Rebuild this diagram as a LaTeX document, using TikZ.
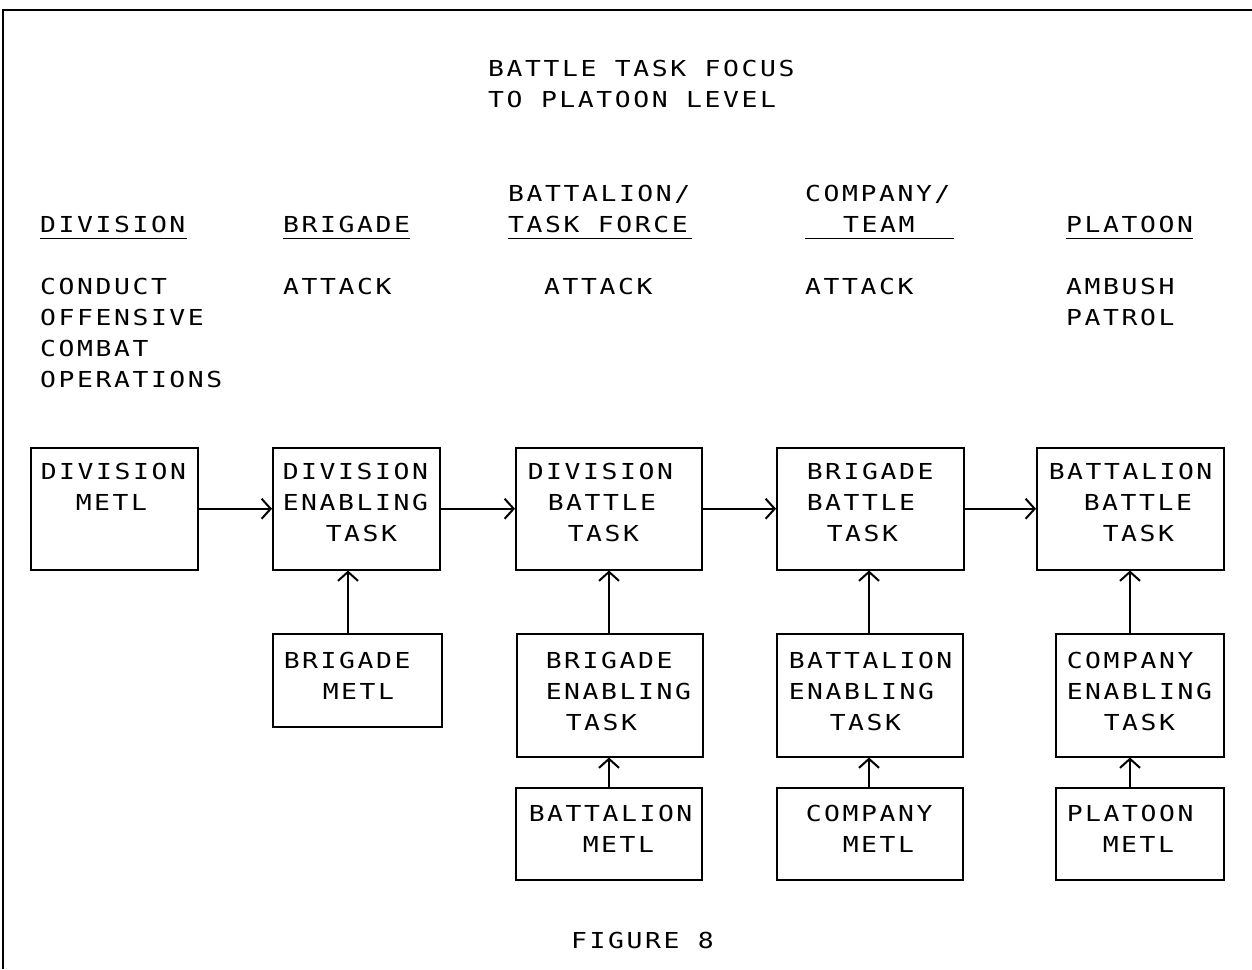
\documentclass[tikz,border=0pt]{standalone}
\usepackage{fontspec}
\newfontfamily\plotfont{DejaVu Sans Mono}[FakeStretch=1.2,LetterSpace=11.7]
\usetikzlibrary{arrows.meta}
\newcommand\boxtext[4]{\parbox[c][#2pt][t]{#1pt}{\rule{0pt}{#3pt}#4}}
\newcommand\lns[1]{\begin{tabular}[t]{@{}l@{}}#1\end{tabular}}
\tikzset{
  every node/.style={font=\plotfont\fontsize{22}{31}\selectfont},
  box/.style={draw, line width=1.5pt, inner sep=0pt, anchor=north west},
  txt/.style={anchor=base west, inner sep=0pt},
  arr/.style={line width=1.5pt, -{Straight Barb[length=9pt,width=20pt,line width=2pt]}},
  uline/.style={line width=1.5pt},
  frame/.style={line width=1.6pt}
}
\begin{document}
\begin{tikzpicture}[x=1pt,y=-1pt]
\useasboundingbox (0,0) rectangle (1252,969);
\draw[frame] (3,969) -- (3,10) -- (1252,10);

% title
\node[txt] (title) at (488,76) {\lns{BATTLE TASK FOCUS\\TO PLATOON LEVEL}};

% column headings
\node[txt] (hdiv) at (40,232.7) {DIVISION};
\node[txt] (hbrig) at (283,232.7) {BRIGADE};
\node[txt] (hbat) at (508,201.5) {\lns{BATTALION/\\TASK FORCE}};
\node[txt] (hco) at (805,201.5) {\lns{COMPANY/\\\hspace*{38pt}TEAM}};
\node[txt] (hplt) at (1066,232.7) {PLATOON};
\draw[uline] (40,238.5) -- (187,238.5);
\draw[uline] (283,238.5) -- (410,238.5);
\draw[uline] (508,238.5) -- (692,238.5);
\draw[uline] (805,238.5) -- (954,238.5);
\draw[uline] (1066,238.5) -- (1193,238.5);

% tasks
\node[txt] (tdiv) at (40,294) {\lns{CONDUCT\\OFFENSIVE\\COMBAT\\OPERATIONS}};
\node[txt] (tbrig) at (283,294) {ATTACK};
\node[txt] (tbat) at (544,294) {ATTACK};
\node[txt] (tco) at (805,294) {ATTACK};
\node[txt] (tplt) at (1066,294) {\lns{AMBUSH\\PATROL}};

% row 1
\node[box] (B1) at (30,447) {\boxtext{167}{122}{31.5}{\hspace*{10pt}DIVISION\\\hspace*{45pt}METL}};
\node[box] (B2) at (272,447) {\boxtext{167}{122}{31.5}{\hspace*{10pt}DIVISION\\\hspace*{10pt}ENABLING\\\hspace*{53pt}TASK}};
\node[box] (B3) at (515,447) {\boxtext{186}{122}{31.5}{\hspace*{12pt}DIVISION\\\hspace*{32pt}BATTLE\\\hspace*{52pt}TASK}};
\node[box] (B4) at (776,447) {\boxtext{187}{122}{31.5}{\hspace*{30pt}BRIGADE\\\hspace*{30pt}BATTLE\\\hspace*{50pt}TASK}};
\node[box] (B5) at (1036,447) {\boxtext{187}{122}{31.5}{\hspace*{12pt}BATTALION\\\hspace*{47pt}BATTLE\\\hspace*{66pt}TASK}};

% row 2
\node[box] (B6) at (272,633) {\boxtext{169}{93}{35}{\hspace*{11pt}BRIGADE\\\hspace*{50pt}METL}};
\node[box] (B7) at (516,633) {\boxtext{186}{123}{35}{\hspace*{29pt}BRIGADE\\\hspace*{29pt}ENABLING\\\hspace*{49pt}TASK}};
\node[box] (B8) at (776,633) {\boxtext{186}{123}{35}{\hspace*{12pt}BATTALION\\\hspace*{12pt}ENABLING\\\hspace*{53pt}TASK}};
\node[box] (B9) at (1055,633) {\boxtext{168}{123}{35}{\hspace*{11pt}COMPANY\\\hspace*{11pt}ENABLING\\\hspace*{48pt}TASK}};

% row 3
\node[box] (B10) at (515,787) {\boxtext{186}{92}{34}{\hspace*{13pt}BATTALION\\\hspace*{67pt}METL}};
\node[box] (B11) at (776,787) {\boxtext{186}{92}{34}{\hspace*{29pt}COMPANY\\\hspace*{66pt}METL}};
\node[box] (B12) at (1055,787) {\boxtext{168}{92}{34}{\hspace*{11pt}PLATOON\\\hspace*{47pt}METL}};

\node[txt] (fig) at (571,948) {FIGURE 8};

% horizontal connectors
\draw[arr] (B1.east) -- (B2.west);
\draw[arr] (B2.east) -- (B3.west);
\draw[arr] (B3.east) -- (B4.west);
\draw[arr] (B4.east) -- (B5.west);

% vertical connectors
\coordinate (x2) at (348,0);
\coordinate (x3) at (609,0);
\coordinate (x4) at (869,0);
\coordinate (x5) at (1130,0);
\draw[arr] (B6.north -| x2) -- (B2.south -| x2);
\draw[arr] (B7.north -| x3) -- (B3.south -| x3);
\draw[arr] (B10.north -| x3) -- (B7.south -| x3);
\draw[arr] (B8.north -| x4) -- (B4.south -| x4);
\draw[arr] (B11.north -| x4) -- (B8.south -| x4);
\draw[arr] (B9.north -| x5) -- (B5.south -| x5);
\draw[arr] (B12.north -| x5) -- (B9.south -| x5);
\end{tikzpicture}
\end{document}
